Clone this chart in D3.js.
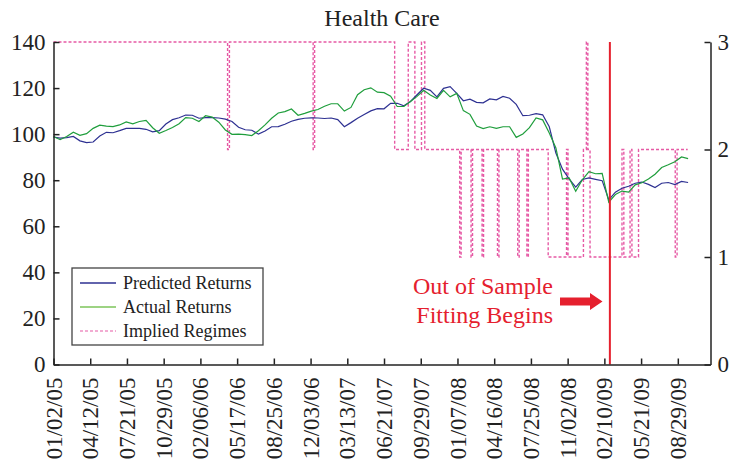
<!DOCTYPE html>
<html>
<head>
<meta charset="utf-8">
<script src="https://cdn.jsdelivr.net/npm/d3@7"></script>
<style>
  body { margin: 0; background: #fff; }
  svg text { font-family: "Liberation Serif", "Times New Roman", serif; }
</style>
</head>
<body>
<svg id="chart" width="732" height="465"></svg>
<script>
const seriesStart = "2005-01-02"
const stepDays = 18
const predicted = [
  98.7, 98.3, 98.5, 99.0, 97.1, 96.3, 96.6, 99.2, 100.8, 100.6,
  101.5, 102.5, 102.5, 102.5, 102.1, 101.0, 101.5, 104.4, 106.3, 107.1,
  108.3, 108.2, 106.9, 107.2, 107.2, 107.0, 106.5, 105.5, 103.0, 101.9,
  101.7, 100.0, 101.4, 103.2, 103.3, 104.3, 105.6, 106.4, 106.9, 107.1,
  107.0, 106.8, 107.0, 106.3, 103.2, 105.0, 106.9, 108.5, 110.1, 111.1,
  111.0, 113.4, 113.4, 112.3, 114.2, 117.1, 119.9, 119.0, 116.2, 119.9,
  120.6, 117.7, 114.5, 115.2, 113.8, 113.6, 115.3, 114.9, 116.4, 115.6,
  112.9, 108.0, 108.2, 108.9, 108.4, 103.2, 91.8, 84.8, 80.6, 77.0,
  80.3, 81.0, 80.4, 79.8, 71.5, 74.8, 76.5, 77.4, 78.7, 79.2,
  78.2, 76.8, 78.7, 79.0, 78.1, 79.5, 79.0
]
const actual = [
  99.0, 97.6, 99.0, 100.8, 99.5, 100.2, 102.5, 103.9, 103.5, 103.3,
  104.0, 105.3, 104.5, 105.5, 106.0, 102.8, 100.4, 101.6, 102.9, 104.5,
  107.2, 106.9, 105.5, 108.0, 107.4, 105.2, 101.8, 99.9, 100.0, 99.8,
  99.4, 101.5, 104.0, 106.9, 109.2, 109.8, 110.9, 108.2, 109.0, 110.0,
  110.7, 112.1, 113.2, 113.2, 110.0, 111.6, 117.1, 119.3, 120.1, 118.2,
  118.0, 116.5, 112.0, 112.0, 114.2, 116.4, 119.0, 117.0, 115.5, 119.0,
  116.2, 117.7, 110.2, 108.6, 103.5, 102.4, 103.2, 102.5, 103.2, 103.2,
  98.6, 100.1, 102.8, 107.0, 106.2, 100.5, 94.0, 80.5, 81.0, 75.2,
  80.2, 83.7, 82.8, 83.0, 70.5, 73.8, 75.3, 74.8, 78.0, 78.9,
  80.5, 82.6, 85.5, 86.7, 88.0, 90.1, 89.4
]
// implied regime, one entry per switch
const regimeDates = [
  "2005-01-02", "2006-04-21", "2006-04-26", "2006-12-10", "2006-12-14",
  "2007-07-20", "2007-08-26", "2007-09-13", "2007-10-01", "2007-10-10",
  "2008-01-13", "2008-01-17", "2008-02-13", "2008-02-17", "2008-03-14",
  "2008-03-18", "2008-04-25", "2008-04-29", "2008-06-19", "2008-06-23",
  "2008-07-14", "2008-07-18", "2008-09-10", "2008-10-30", "2008-11-03",
  "2008-12-15", "2008-12-23", "2008-12-27", "2009-01-02", "2009-03-30",
  "2009-04-04", "2009-04-21", "2009-04-26", "2009-05-14", "2009-08-22",
  "2009-08-27", "2009-09-25"
]
const regimeValues = [
  3, 2, 3, 2, 3,
  2, 3, 2, 3, 2,
  1, 2, 1, 2, 1,
  2, 1, 2, 1, 2,
  1, 2, 1, 2, 1,
  2, 3, 2, 1, 2,
  1, 2, 1, 2, 1,
  2, 2
]
const xTickLabels = [
  "01/02/05", "04/12/05", "07/21/05", "10/29/05", "02/06/06", "05/17/06",
  "08/25/06", "12/03/06", "03/13/07", "06/21/07", "09/29/07", "01/07/08",
  "04/16/08", "07/25/08", "11/02/08", "02/10/09", "05/21/09", "08/29/09"
]
const leftTicks = [0, 20, 40, 60, 80, 100, 120, 140]
const rightTicks = [0, 1, 2, 3]
const outOfSampleDate = "2009-02-25"
const axisEndDate = "2009-11-26"

const parseDay = d3.timeParse("%Y-%m-%d")
const parseTick = d3.timeParse("%m/%d/%y")

const plotL = 53.5, plotR = 710.5, plotT = 42, plotB = 364.5
const svg = d3.select("#chart")

const start = parseDay(seriesStart)
const dates = predicted.map((_, i) => d3.timeDay.offset(start, i * stepDays))

const x = d3.scaleTime()
  .domain([parseTick(xTickLabels[0]), parseDay(axisEndDate)])
  .range([plotL, plotR])
const yL = d3.scaleLinear().domain([0, 140]).range([plotB, plotT])
const yR = d3.scaleLinear().domain([0, 3]).range([plotB, plotT])

// regimes (step line)
const pink = "#e65aa5"
const regime = regimeDates.map((d, i) => ({ date: parseDay(d), v: regimeValues[i] }))
const stepLine = d3.line()
  .x((d) => x(d.date))
  .y((d) => yR(d.v))
  .curve(d3.curveStepAfter)
svg.append("path")
  .datum(regime)
  .attr("d", stepLine)
  .attr("fill", "none")
  .attr("stroke", pink)
  .attr("stroke-width", 1.4)
  .attr("stroke-dasharray", "3,2")

// returns
const retLine = (vals) =>
  d3.line()
    .x((d, i) => x(dates[i]))
    .y((d) => yL(d))(vals)

svg.append("path")
  .attr("d", retLine(predicted))
  .attr("fill", "none")
  .attr("stroke", "#2e3192")
  .attr("stroke-width", 1.2)

svg.append("path")
  .attr("d", retLine(actual))
  .attr("fill", "none")
  .attr("stroke", "#1f9e3c")
  .attr("stroke-width", 1.2)

// out of sample marker
const red = "#e5202e"
svg.append("line")
  .attr("x1", x(parseDay(outOfSampleDate)))
  .attr("x2", x(parseDay(outOfSampleDate)))
  .attr("y1", plotT)
  .attr("y2", plotB)
  .attr("stroke", red)
  .attr("stroke-width", 2)

// axes
const axisStyle = (g) => {
  g.select(".domain").attr("stroke", "#222").attr("stroke-width", 1.5)
  g.selectAll(".tick line").attr("stroke", "#222").attr("stroke-width", 1.5)
  g.selectAll("text").attr("fill", "#222").style("font-size", "23px")
}

svg.append("g")
  .attr("transform", `translate(0,${plotB})`)
  .call(
    d3.axisBottom(x)
      .tickValues(xTickLabels.map(parseTick))
      .tickFormat(d3.timeFormat("%m/%d/%y"))
      .tickSize(-6)
      .tickSizeOuter(0)
  )
  .call(axisStyle)
  .selectAll("text")
  .attr("transform", "rotate(-90)")
  .attr("x", -13)
  .attr("y", 0)
  .attr("dy", "0.33em")
  .style("text-anchor", "end")

svg.append("g")
  .attr("transform", `translate(${plotL},0)`)
  .call(d3.axisLeft(yL).tickValues(leftTicks).tickFormat(d3.format("d"))
    .tickSize(-6).tickSizeOuter(0).tickPadding(8))
  .call(axisStyle)

svg.append("g")
  .attr("transform", `translate(${plotR},0)`)
  .call(d3.axisRight(yR).tickValues(rightTicks).tickFormat(d3.format("d"))
    .tickSize(-6).tickSizeOuter(0).tickPadding(7))
  .call(axisStyle)

// title
svg.append("text")
  .attr("x", (plotL + plotR) / 2)
  .attr("y", 26)
  .attr("text-anchor", "middle")
  .style("font-size", "24px")
  .attr("fill", "#222")
  .text("Health Care")

// annotation
const note = svg.append("text")
  .attr("text-anchor", "end")
  .attr("fill", red)
  .style("font-size", "24px")
note.append("tspan").attr("x", 553).attr("y", 294).text("Out of Sample")
note.append("tspan").attr("x", 553).attr("y", 322.5).text("Fitting Begins")

svg.append("path")
  .attr("d", "M560,297.5 L590,297.5 L590,293 L602.5,301.5 L590,310 L590,305.5 L560,305.5 Z")
  .attr("fill", red)

// legend
const legendItems = [
  { label: "Predicted Returns", color: "#2e3192", dash: null, w: 1.5 },
  { label: "Actual Returns", color: "#7cc45a", dash: null, w: 1.5 },
  { label: "Implied Regimes", color: pink, dash: "3,2", w: 1.2 }
]
const lg = svg.append("g")
lg.append("rect")
  .attr("x", 72).attr("y", 268)
  .attr("width", 191).attr("height", 77)
  .attr("fill", "#fff")
  .attr("stroke", "#444")
  .attr("stroke-width", 1.3)
legendItems.forEach((d, i) => {
  const cy = 283 + i * 24
  lg.append("line")
    .attr("x1", 80).attr("x2", 116)
    .attr("y1", cy).attr("y2", cy)
    .attr("stroke", d.color)
    .attr("stroke-width", d.w)
    .attr("stroke-dasharray", d.dash)
  lg.append("text")
    .attr("x", 123).attr("y", cy)
    .attr("dy", "0.33em")
    .attr("fill", "#222")
    .style("font-size", "18px")
    .text(d.label)
})
</script>
</body>
</html>
